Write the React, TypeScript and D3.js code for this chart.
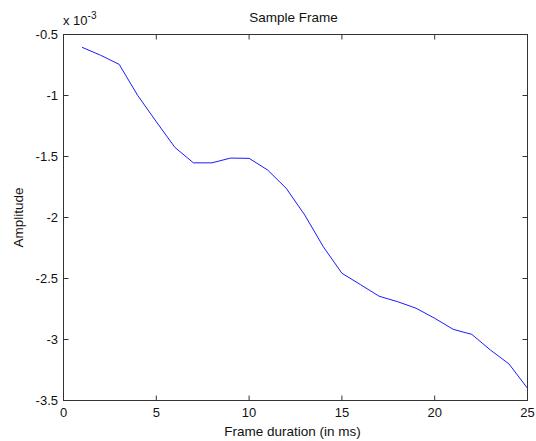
import React from "react";
import * as d3 from "d3";

const frameMs = [1, 2, 3, 4, 5, 6, 7, 8, 9, 10, 11, 12, 13, 14, 15, 16, 17, 18, 19, 20, 21, 22, 23, 24, 25];
const amplitude = [
  -0.605, -0.67, -0.745, -1.0, -1.215, -1.425, -1.552, -1.552, -1.513, -1.515,
  -1.611, -1.761, -1.98, -2.24, -2.457, -2.55, -2.645, -2.69, -2.744, -2.826,
  -2.917, -2.958, -3.086, -3.2, -3.4,
];
const xTicks = [0, 5, 10, 15, 20, 25];
const yTicks = [-0.5, -1, -1.5, -2, -2.5, -3, -3.5];

const W = 536, H = 441;
const L = 63.5, R = 527.5, T = 34.5, B = 400.5;
const font = "'Liberation Sans', Arial, sans-serif";
const axisColor = "#333";

export default function App() {
  const x = d3.scaleLinear().domain([0, 25]).range([L, R]);
  const y = d3.scaleLinear().domain([-3.5, -0.5]).range([B, T]);
  const line = d3.line<number>().x((_, i) => x(frameMs[i])).y((d) => y(d));
  const tl = 5;
  return (
    <svg width={W} height={H} style={{ position: "absolute", left: 0, top: 0, background: "#fff" }}>
      <rect x={0} y={0} width={W} height={H} fill="#fff" />
      <path d={line(amplitude) || ""} fill="none" stroke="#0000ff" strokeWidth={0.9} />
      <rect x={L} y={T} width={R - L} height={B - T} fill="none" stroke={axisColor} strokeWidth={1} />
      {xTicks.map((t) => (
        <g key={"x" + t}>
          <line x1={x(t)} x2={x(t)} y1={B} y2={B - tl} stroke={axisColor} />
          <line x1={x(t)} x2={x(t)} y1={T} y2={T + tl} stroke={axisColor} />
          <text x={x(t)} y={417} textAnchor="middle" fontFamily={font} fontSize={13} fill="#111">
            {t}
          </text>
        </g>
      ))}
      {yTicks.map((t) => (
        <g key={"y" + t}>
          <line x1={L} x2={L + tl} y1={y(t)} y2={y(t)} stroke={axisColor} />
          <line x1={R} x2={R - tl} y1={y(t)} y2={y(t)} stroke={axisColor} />
          <text x={58} y={y(t) + 4.5} textAnchor="end" fontFamily={font} fontSize={13} fill="#111">
            {t}
          </text>
        </g>
      ))}
      <text x={63} y={25} fontFamily={font} fontSize={13} fill="#111">
        x 10
        <tspan dy={-6} fontSize={10}>-3</tspan>
      </text>
      <text x={(L + R) / 2 - 2} y={22} textAnchor="middle" fontFamily={font} fontSize={13.5} fill="#111">
        Sample Frame
      </text>
      <text x={(L + R) / 2 - 3} y={436} textAnchor="middle" fontFamily={font} fontSize={13.5} fill="#111">
        Frame duration (in ms)
      </text>
      <text
        transform={`translate(23, ${(T + B) / 2}) rotate(-90)`}
        textAnchor="middle"
        fontFamily={font}
        fontSize={13.5}
        fill="#111"
      >
        Amplitude
      </text>
    </svg>
  );
}
